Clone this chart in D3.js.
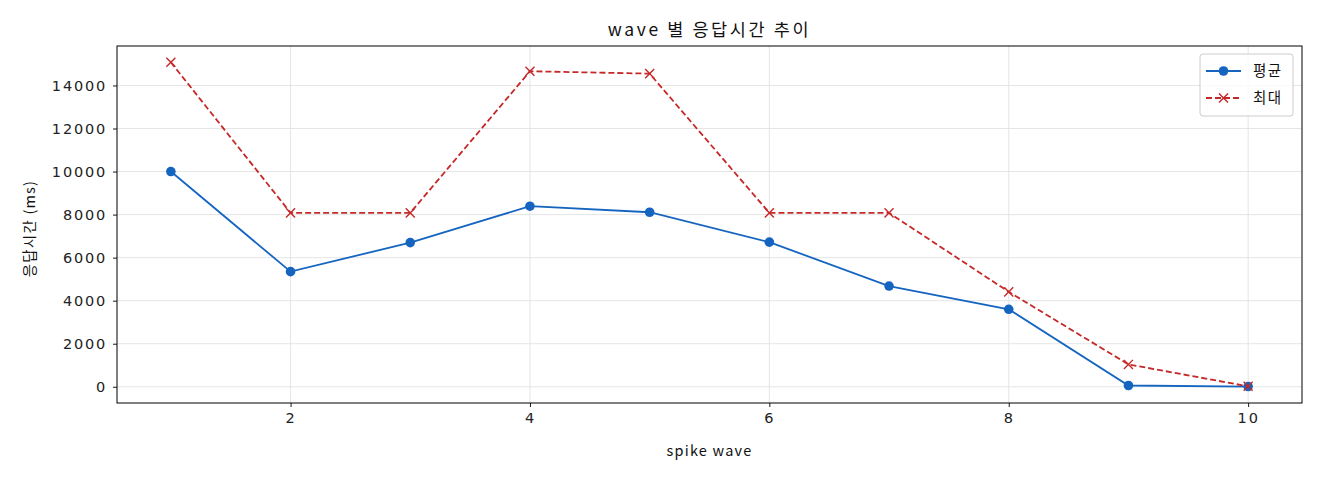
<!DOCTYPE html>
<html>
<head>
  <meta charset="utf-8">
  <title>wave 별 응답시간 추이</title>
  <style>
    body { margin: 0; background: #fff; }
    svg { font-family: "Noto Sans CJK KR", "Noto Sans", sans-serif; }
    .tick text { font-family: "DejaVu Sans", sans-serif; font-size: 14.5px; letter-spacing: 1.8px; fill: #222; }
    .grid line { stroke: #e2e2e2; stroke-width: 0.9px; }
  </style>
</head>
<body>
  <svg width="1320" height="480"></svg>

  <script src="https://d3js.org/d3.v7.min.js"></script>
  <script>
    // wave 번호
    var waves = [1, 2, 3, 4, 5, 6, 7, 8, 9, 10];
    // 평균 응답시간 (ms)
    var avgMs = [10000, 5350, 6700, 8390, 8110, 6720, 4680, 3600, 60, 10];
    // 최대 응답시간 (ms)
    var maxMs = [15080, 8080, 8080, 14660, 14550, 8080, 8080, 4410, 1040, 20];
    var xTicks = [2, 4, 6, 8, 10];
    var yTicks = [0, 2000, 4000, 6000, 8000, 10000, 12000, 14000];

    var svg = d3.select('svg');
    var margin = { left: 117, right: 18, top: 46, bottom: 77 };
    var width = 1320 - margin.left - margin.right;
    var height = 480 - margin.top - margin.bottom;

    var x = d3.scaleLinear().domain([0.55, 10.45]).range([0, width]);
    var yMax = d3.max(maxMs), yMin = 0, pad = (yMax - yMin) * 0.05;
    var y = d3.scaleLinear().domain([yMin - pad, yMax + pad]).range([height, 0]);

    var g = svg.append('g').attr('transform', 'translate(' + margin.left + ',' + margin.top + ')');

    // grid
    g.append('g').attr('class', 'grid')
      .selectAll('line').data(xTicks).enter().append('line')
      .attr('x1', d => x(d)).attr('x2', d => x(d)).attr('y1', 0).attr('y2', height);
    g.append('g').attr('class', 'grid')
      .selectAll('line').data(yTicks).enter().append('line')
      .attr('y1', d => y(d)).attr('y2', d => y(d)).attr('x1', 0).attr('x2', width);

    // axes
    var xAxis = g.append('g').attr('transform', 'translate(0,' + height + ')')
      .call(d3.axisBottom(x).tickValues(xTicks).tickFormat(d3.format('d')).tickSize(4).tickPadding(6));
    var yAxis = g.append('g')
      .call(d3.axisLeft(y).tickValues(yTicks).tickFormat(d3.format('d')).tickSize(4).tickPadding(6));
    [xAxis, yAxis].forEach(function(a) {
      a.select('.domain').remove();
      a.selectAll('.tick line').attr('stroke', '#000').attr('stroke-width', 0.9);
    });

    // frame
    g.append('rect').attr('width', width).attr('height', height)
      .attr('fill', 'none').attr('stroke', '#000').attr('stroke-width', 1);

    var line = d3.line().x((d, i) => x(waves[i])).y(d => y(d));

    // 평균
    g.append('path').datum(avgMs).attr('d', line)
      .attr('fill', 'none').attr('stroke', '#1565c0').attr('stroke-width', 1.8);
    g.selectAll('circle.avg').data(avgMs).enter().append('circle')
      .attr('cx', (d, i) => x(waves[i])).attr('cy', d => y(d)).attr('r', 4.8)
      .attr('fill', '#1565c0');

    // 최대
    g.append('path').datum(maxMs).attr('d', line)
      .attr('fill', 'none').attr('stroke', '#c62828').attr('stroke-width', 1.8)
      .attr('stroke-dasharray', '6,3');
    var cross = d3.symbol().type(d3.symbolX).size(55);
    g.selectAll('path.max').data(maxMs).enter().append('path')
      .attr('d', cross)
      .attr('transform', (d, i) => 'translate(' + x(waves[i]) + ',' + y(d) + ')')
      .attr('fill', 'none').attr('stroke', '#c62828').attr('stroke-width', 1.4);

    // titles
    svg.append('text').attr('x', margin.left + width / 2).attr('y', 36)
      .attr('text-anchor', 'middle').attr('font-size', 17.5).attr('letter-spacing', 2.6).attr('fill', '#111')
      .text('wave 별 응답시간 추이');
    svg.append('text').attr('x', margin.left + width / 2).attr('y', 456)
      .attr('text-anchor', 'middle').attr('font-size', 14.5).attr('letter-spacing', 1.2).attr('fill', '#111')
      .text('spike wave');
    svg.append('text')
      .attr('transform', 'translate(35,' + (margin.top + height / 2 + 4) + ') rotate(-90)')
      .attr('text-anchor', 'middle').attr('font-size', 14.5).attr('letter-spacing', 1.2).attr('fill', '#111')
      .text('응답시간 (ms)');

    // legend
    var lg = svg.append('g').attr('transform', 'translate(1200,54)');
    lg.append('rect').attr('width', 93).attr('height', 62).attr('rx', 3)
      .attr('fill', '#fff').attr('fill-opacity', 0.8).attr('stroke', '#ccc');
    var items = [
      { name: '평균', color: '#1565c0', dash: null, mark: 'circle' },
      { name: '최대', color: '#c62828', dash: '6,3', mark: 'x' }
    ];
    items.forEach(function(it, i) {
      var yy = 17 + i * 27;
      lg.append('line').attr('x1', 6).attr('x2', 41).attr('y1', yy).attr('y2', yy)
        .attr('stroke', it.color).attr('stroke-width', 1.8)
        .attr('stroke-dasharray', it.dash);
      if (it.mark === 'circle') {
        lg.append('circle').attr('cx', 23.5).attr('cy', yy).attr('r', 4.8).attr('fill', it.color);
      } else {
        lg.append('path').attr('d', cross).attr('transform', 'translate(23.5,' + yy + ')')
          .attr('fill', 'none').attr('stroke', it.color).attr('stroke-width', 1.4);
      }
      lg.append('text').attr('x', 53).attr('y', yy + 5).attr('font-size', 14.5).attr('letter-spacing', 1.5).attr('fill', '#111')
        .text(it.name);
    });
  </script>
</body>
</html>
